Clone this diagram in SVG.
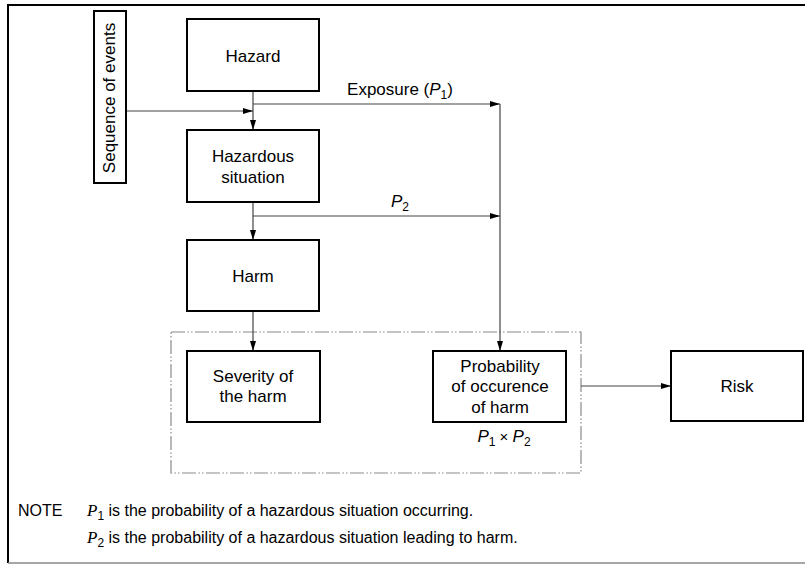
<svg xmlns="http://www.w3.org/2000/svg" width="805" height="566" viewBox="0 0 805 566">
  <defs>
    <marker id="arrow" viewBox="0 0 10 6" refX="10" refY="3" markerWidth="10" markerHeight="6" markerUnits="userSpaceOnUse" orient="auto">
      <path d="M0,0 L10,3 L0,6 Z" fill="#000"/>
    </marker>
    <style>
      .box { fill: #fff; stroke: #000; stroke-width: 2; }
      .lbl { font-family: "Liberation Sans", Arial, sans-serif; font-size: 17px; fill: #000; text-anchor: middle; }
      .conn { fill: none; stroke: #444; stroke-width: 1.2; }
      .note { font-family: "Liberation Sans", Arial, sans-serif; font-size: 16px; fill: #000; }
      .pvar { font-family: "Liberation Serif", "Times New Roman", serif; font-style: italic; }
      .it { font-style: italic; }
    </style>
  </defs>

  <rect x="0" y="0" width="805" height="566" fill="#fff"/>

  <!-- frame -->
  <path d="M8,563 V5 H805" fill="none" stroke="#000" stroke-width="2"/>
  <path d="M8,563 H805" fill="none" stroke="#888" stroke-width="1.5"/>

  <!-- grouping frame round severity and probability -->
  <rect x="171" y="332" width="410" height="141" fill="none" stroke="#8a8a8a" stroke-width="1.2" stroke-dasharray="14 2.5 1.5 2 1.5 2.5"/>

  <!-- connectors -->
  <g id="connectors">
    <path class="conn" d="M253,91 V130" marker-end="url(#arrow)"/>
    <path class="conn" d="M126,111 H253" marker-end="url(#arrow)"/>
    <path class="conn" d="M253,104 H500" marker-end="url(#arrow)"/>
    <path class="conn" d="M253,202 V240" marker-end="url(#arrow)"/>
    <path class="conn" d="M253,216 H500" marker-end="url(#arrow)"/>
    <path class="conn" d="M253,311 V351" marker-end="url(#arrow)"/>
    <path class="conn" d="M500,104 V351" marker-end="url(#arrow)"/>
    <path class="conn" d="M581,386 H671" marker-end="url(#arrow)"/>
    <text class="lbl" x="400" y="95">Exposure (<tspan class="it">P</tspan><tspan font-size="12" dy="4">1</tspan><tspan dy="-4">)</tspan></text>
    <text class="lbl" x="400" y="207"><tspan class="it">P</tspan><tspan font-size="12" dy="4">2</tspan></text>
  </g>

  <g id="sequence">
    <rect class="box" x="94" y="11" width="32" height="172"/>
    <text class="lbl" transform="translate(115,98) rotate(-90)">Sequence of events</text>
  </g>

  <g id="hazard">
    <rect class="box" x="187" y="19" width="132" height="72"/>
    <text class="lbl" x="253" y="62">Hazard</text>
  </g>

  <g id="hazardous-situation">
    <rect class="box" x="187" y="130" width="132" height="72"/>
    <text class="lbl" x="253" y="162">Hazardous</text>
    <text class="lbl" x="253" y="183">situation</text>
  </g>

  <g id="harm">
    <rect class="box" x="187" y="240" width="132" height="71"/>
    <text class="lbl" x="253" y="282">Harm</text>
  </g>

  <g id="severity">
    <rect class="box" x="187" y="351" width="133" height="71"/>
    <text class="lbl" x="253" y="382">Severity of</text>
    <text class="lbl" x="253" y="402">the harm</text>
  </g>

  <g id="probability">
    <rect class="box" x="433" y="351" width="133" height="71"/>
    <text class="lbl" x="500" y="372">Probability</text>
    <text class="lbl" x="500" y="392">of occurence</text>
    <text class="lbl" x="500" y="413">of harm</text>
    <text class="lbl" x="504" y="442"><tspan class="it">P</tspan><tspan font-size="12" dy="4">1</tspan><tspan dy="-4" font-size="15"> × </tspan><tspan class="it">P</tspan><tspan font-size="12" dy="4">2</tspan></text>
  </g>

  <g id="risk">
    <rect class="box" x="671" y="351" width="132" height="70"/>
    <text class="lbl" x="737" y="392">Risk</text>
  </g>

  <!-- note -->
  <g id="note">
    <text class="note" x="18" y="516">NOTE</text>
    <text class="note" x="87" y="516"><tspan class="pvar" font-size="17">P</tspan><tspan font-size="12" dy="4">1</tspan><tspan dy="-4"> is the probability of a hazardous situation occurring.</tspan></text>
    <text class="note" x="87" y="543"><tspan class="pvar" font-size="17">P</tspan><tspan font-size="12" dy="4">2</tspan><tspan dy="-4"> is the probability of a hazardous situation leading to harm.</tspan></text>
  </g>
</svg>
